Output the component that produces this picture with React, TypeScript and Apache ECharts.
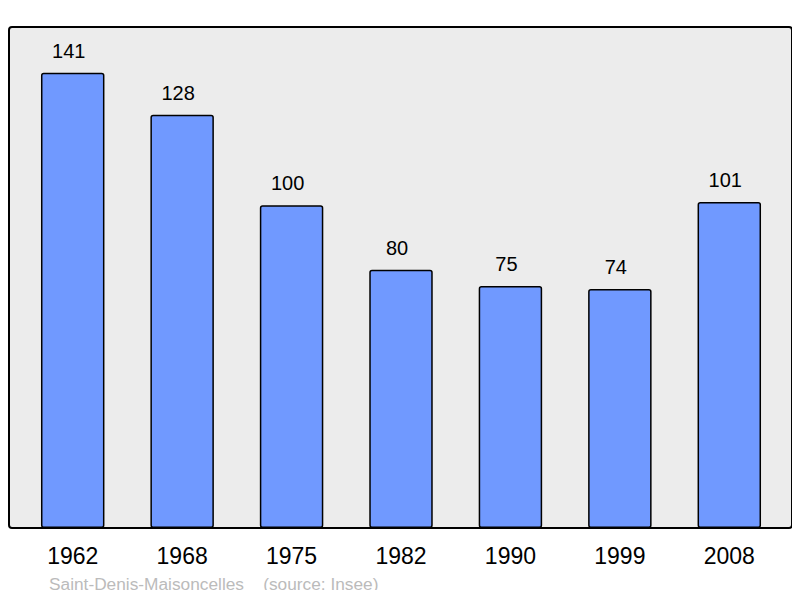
import { useEffect, useRef } from "react";
import * as echarts from "echarts";

const years = ["1962", "1968", "1975", "1982", "1990", "1999", "2008"];
const population = [141, 128, 100, 80, 75, 74, 101];
const footer = "Saint-Denis-Maisoncelles    (source: Insee)";

export default function App() {
  const chartRef = useRef<HTMLDivElement>(null);

  useEffect(() => {
    if (!chartRef.current) return;
    const chart = echarts.init(chartRef.current, null, { renderer: "svg" });
    const font = "'Liberation Sans', Arial, sans-serif";

    chart.setOption({
      animation: false,
      textStyle: { fontFamily: font },
      grid: { left: 18, right: 16, top: 27, bottom: 70 },
      graphic: [
        {
          type: "rect",
          z: -10,
          shape: { x: 9, y: 27, width: 783, height: 501, r: 3 },
          style: { fill: "#ececec", stroke: "#000", lineWidth: 2 },
        },
        {
          type: "text",
          left: 49,
          top: 575,
          style: { text: footer, fill: "#bbbbbb", font: `17.3px ${font}` },
        },
      ],
      xAxis: {
        type: "category",
        data: years,
        axisLine: { show: false },
        axisTick: { show: false },
        axisLabel: { color: "#000", fontSize: 23, margin: 16, fontFamily: font },
      },
      yAxis: {
        type: "value",
        min: 0,
        max: 155.2,
        show: false,
        splitLine: { show: false },
      },
      series: [
        {
          type: "bar",
          data: population,
          barWidth: "58%",
          itemStyle: {
            color: "#7099ff",
            borderColor: "#000",
            borderWidth: 1.5,
            borderRadius: 2,
          },
          label: {
            show: true,
            position: "top",
            distance: 12,
            offset: [-4, 0],
            color: "#000",
            fontSize: 20,
            fontFamily: font,
          },
        },
      ],
    });

    return () => chart.dispose();
  }, []);

  return <div ref={chartRef} style={{ width: 800, height: 598, margin: -8 }} />;
}
